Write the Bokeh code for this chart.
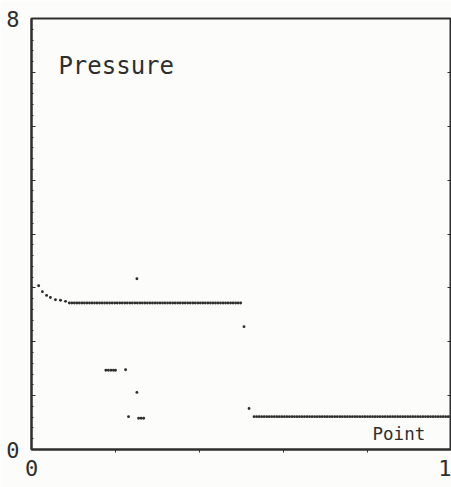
import numpy as np
from bokeh.plotting import figure
from bokeh.models import Range1d, Label, FixedTicker, LinearAxis
from bokeh.embed import file_html
from bokeh.resources import INLINE

# ---- data ----
start_x = [0.0, 0.017, 0.026, 0.036, 0.045, 0.057, 0.069, 0.081]
start_y = [3.01, 3.04, 2.93, 2.86, 2.82, 2.78, 2.77, 2.75]

plateau1_x0 = 0.090
plateau1_y = [
    2.72, 2.72, 2.72, 2.72, 2.72, 2.72, 2.72, 2.72, 2.72, 2.72,
    2.72, 2.72, 2.72, 2.72, 2.72, 2.72, 2.72, 2.72, 2.72, 2.72,
    2.72, 2.72, 2.72, 2.72, 2.72, 2.72, 2.72, 2.72, 2.72, 2.72,
    2.72, 2.72, 2.72, 2.72, 2.72, 2.72, 2.72, 2.72, 2.72, 2.72,
    2.72, 2.72, 2.72, 2.72, 2.72, 2.72, 2.72, 2.72, 2.72, 2.72,
    2.72, 2.72, 2.72, 2.72, 2.72, 2.72, 2.72, 2.72, 2.72, 2.72,
    2.72, 2.72, 2.72, 2.72, 2.72, 2.72, 2.72, 2.72, 2.72,
]

plateau2_x0 = 0.530
plateau2_y = [
    0.61, 0.61, 0.61, 0.61, 0.61, 0.61, 0.61, 0.61, 0.61, 0.61,
    0.61, 0.61, 0.61, 0.61, 0.61, 0.61, 0.61, 0.61, 0.61, 0.61,
    0.61, 0.61, 0.61, 0.61, 0.61, 0.61, 0.61, 0.61, 0.61, 0.61,
    0.61, 0.61, 0.61, 0.61, 0.61, 0.61, 0.61, 0.61, 0.61, 0.61,
    0.61, 0.61, 0.61, 0.61, 0.61, 0.61, 0.61, 0.61, 0.61, 0.61,
    0.61, 0.61, 0.61, 0.61, 0.61, 0.61, 0.61, 0.61, 0.61, 0.61,
    0.61, 0.61, 0.61, 0.61, 0.61, 0.61, 0.61, 0.61, 0.61, 0.61,
    0.61, 0.61, 0.61, 0.61, 0.61, 0.61, 0.61, 0.61, 0.61,
]
point_step = 0.006

stray_x = [0.251, 0.506, 0.177, 0.183, 0.189, 0.195, 0.200, 0.224, 0.251, 0.231, 0.255, 0.261, 0.267, 0.518]
stray_y = [3.17, 2.28, 1.47, 1.47, 1.47, 1.47, 1.47, 1.48, 1.06, 0.61, 0.58, 0.58, 0.58, 0.76]

y_ticks = [0, 1, 2, 3, 4, 5, 6, 7, 8]
y_tick_labels = ["0", "", "", "", "", "", "", "", "8"]
x_label_ticks = [0, 1]
x_tick_labels = ["0", "1"]
x_minor_ticks = [0.2, 0.4, 0.6, 0.8]

title_text = "Pressure"
xlabel_text = "Point"

# ---- figure ----
INK = "#2e2e2e"
BG = "#fcfcfa"
FONT = "DejaVu Sans Mono"

p = figure(width=451, height=487, output_backend="svg", toolbar_location=None,
           x_range=Range1d(0, 1), y_range=Range1d(0, 8))
p.min_border_left = 31
p.min_border_right = 0
p.min_border_top = 18
p.min_border_bottom = 38
p.background_fill_color = BG
p.border_fill_color = BG
p.grid.visible = False
p.outline_line_color = INK
p.outline_line_width = 2

for ax in (p.xaxis[0], p.yaxis[0]):
    ax.axis_line_color = INK
    ax.axis_line_width = 2
    ax.major_tick_line_color = INK
    ax.minor_tick_line_color = INK
    ax.major_label_text_font = FONT
    ax.major_label_text_font_size = "22px"
    ax.major_label_text_color = INK
    ax.major_tick_out = 0

p.yaxis.ticker = FixedTicker(ticks=y_ticks, minor_ticks=[i * 0.2 for i in range(41)])
p.yaxis.major_label_overrides = {t: s for t, s in zip(y_ticks, y_tick_labels)}
p.yaxis.major_tick_in = 4
p.yaxis.minor_tick_in = 2
p.yaxis.minor_tick_out = 0
p.yaxis.major_label_standoff = 12

p.xaxis.ticker = FixedTicker(ticks=x_label_ticks, minor_ticks=x_minor_ticks)
p.xaxis.major_label_overrides = {t: s for t, s in zip(x_label_ticks, x_tick_labels)}
p.xaxis.major_tick_in = 0
p.xaxis.minor_tick_in = 0
p.xaxis.minor_tick_out = 3
p.xaxis.major_label_standoff = 7

right = LinearAxis(ticker=FixedTicker(ticks=y_ticks[1:-1], minor_ticks=[]),
                   major_label_overrides={t: "" for t in y_ticks[1:-1]},
                   major_label_standoff=0,
                   major_tick_in=4, major_tick_out=0, axis_line_color=INK,
                   axis_line_width=1, major_tick_line_color=INK)
p.add_layout(right, "right")

# ---- data marks ----
x1 = plateau1_x0 + point_step * np.arange(len(plateau1_y))
x2 = plateau2_x0 + point_step * np.arange(len(plateau2_y))

p.scatter(start_x, start_y, size=2.9, color=INK, line_width=0)
p.scatter(x1, plateau1_y, size=2.9, color=INK, line_width=0)
p.scatter(x2, plateau2_y, size=2.9, color=INK, line_width=0)
p.scatter(stray_x, stray_y, size=2.9, color=INK, line_width=0)

# ---- texts ----
p.add_layout(Label(x=0.064, y=7.12, text=title_text, text_font=FONT, text_font_size="24px",
                   text_color=INK, text_baseline="alphabetic", text_align="left"))
p.add_layout(Label(x=0.812, y=0, y_offset=16, text=xlabel_text, text_font=FONT,
                   text_font_size="17.5px", text_color=INK, text_baseline="alphabetic",
                   text_align="left"))

open("out.html", "w").write(file_html(p, INLINE))
